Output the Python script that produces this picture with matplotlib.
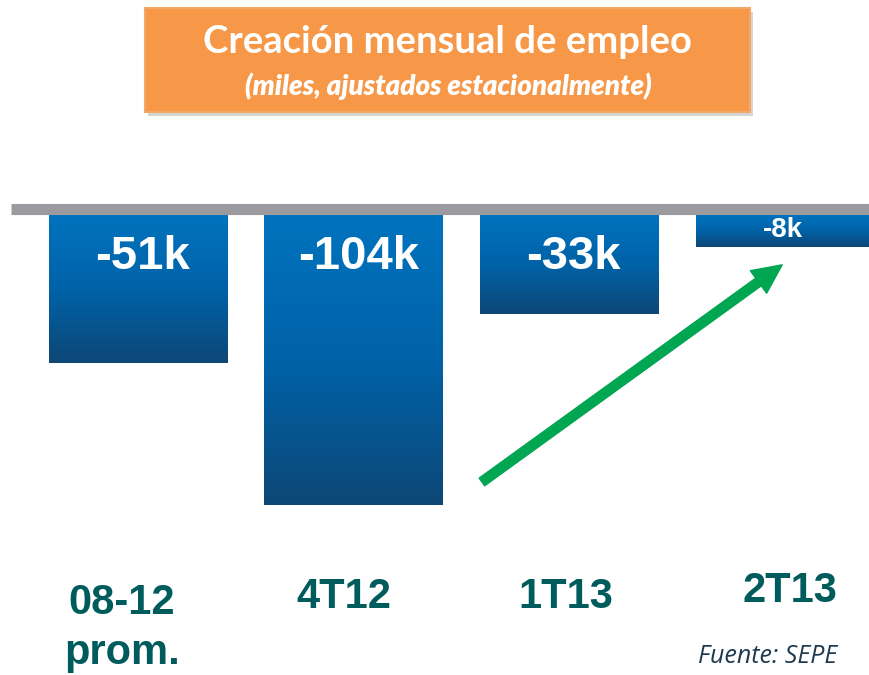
import numpy as np
import matplotlib.pyplot as plt
from matplotlib.patches import FancyBboxPatch
from matplotlib.colors import LinearSegmentedColormap

# data
cats = ["08-12\nprom.", "4T12", "1T13", "2T13"]
vals = np.array([-51, -104, -33, -8])
labels = ["-51k", "-104k", "-33k", "-8k"]
axis_cross = 4.1  # horizontal axis crosses a bit above zero, bars hang from it

W, H = 869, 675
fig = plt.figure(figsize=(W/100, H/100), dpi=100)
ax = fig.add_axes([0, 0, 1, 1])
ax.axis("off")

xs = np.arange(len(vals))
bars = ax.bar(xs, vals - axis_cross, bottom=axis_cross, width=0.83, color="#0069b4", zorder=2)

# vertical gradient in every bar
grad = np.linspace(0, 1, 256).reshape(-1, 1)
cmap = LinearSegmentedColormap.from_list("bl", ["#0d4776", "#0062a8", "#0073be"])
for b in bars:
    x0, y0 = b.get_x(), b.get_y()
    w, h = b.get_width(), b.get_height()
    im = ax.imshow(grad, extent=[x0, x0 + w, y0 + h, y0], origin="lower", cmap=cmap,
                   aspect="auto", zorder=3, interpolation="bicubic")
    im.set_clip_path(b)

# axis line
ax.hlines(6.16, -0.591, 3.39, color="#9b9b9f", lw=8, zorder=4)
ax.set_xlim(-0.642, 3.390)
ax.set_ylim(-167.54, 84.33)

# value labels
for i, (v, t) in enumerate(zip(vals, labels)):
    if v > -15:
        ax.text(i - 0.01, -1.4, t, ha="center", va="center", color="white", fontsize=20,
                fontweight="bold", family="Liberation Sans", zorder=5)
    else:
        ax.text(i + 0.02, -11.6, t, ha="center", va="center", color="white", fontsize=34,
                fontweight="bold", family="Liberation Sans", zorder=5)

# green arrow
ax.annotate("", xy=(2.987, -14.5), xytext=(1.594, -95.5),
            arrowprops=dict(arrowstyle="simple,head_length=2.1,head_width=2.0,tail_width=0.68",
                            mutation_scale=10, color="#00a651", shrinkA=0, shrinkB=0), zorder=6)

# category labels
teal = "#005b5c"
cat_pos = [(122, 628), (344, 597), (566, 597), (790, 591)]
for c, (px, py) in zip(cats, cat_pos):
    fig.text(px / W, 1 - py / H, c, ha="center", va="center", color=teal, fontsize=30,
             fontweight="bold", family="Liberation Sans", linespacing=1.32)

# title box
shadow = FancyBboxPatch((148 / W, 1 - 116 / H), 605 / W, 104 / H, boxstyle="square,pad=0",
                        transform=fig.transFigure, facecolor="#c4c4c4", edgecolor="none",
                        alpha=0.7, zorder=1)
fig.patches.append(shadow)
box = FancyBboxPatch((145 / W, 1 - 112 / H), 605 / W, 104 / H, boxstyle="square,pad=0",
                     transform=fig.transFigure, facecolor="#f79848", edgecolor="#f3a868",
                     lw=1.5, zorder=2)
fig.patches.append(box)
fig.text(447 / W, 1 - 42 / H, "Creación mensual de empleo", ha="center", va="center",
         color="white", fontsize=27.5, fontweight="bold", family="Lato")
fig.text(448 / W, 1 - 86 / H, "(miles, ajustados estacionalmente)", ha="center", va="center",
         color="white", fontsize=20, fontweight="heavy", style="italic", family="Lato")

fig.text(698 / W, 1 - 644 / H, "Fuente: SEPE", ha="left", va="top", color="#1e3a4f",
         fontsize=18, style="italic", family="Open Sans")

fig.savefig("out.png", dpi=100)
